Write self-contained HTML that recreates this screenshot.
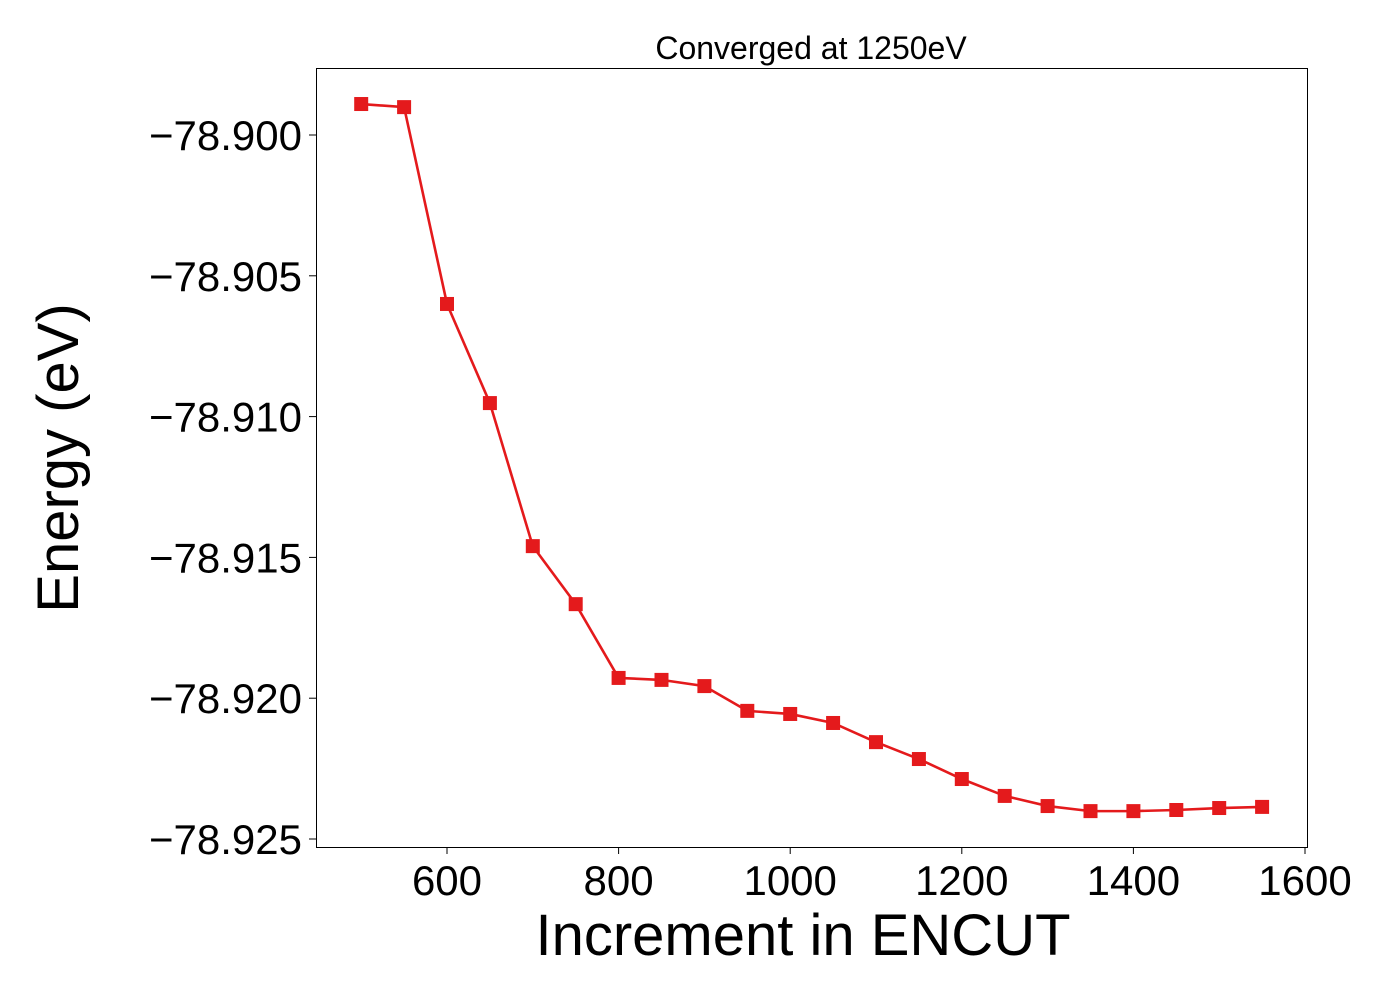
<!DOCTYPE html>
<html><head><meta charset="utf-8"><style>
body{margin:0;background:#fff;}
svg{display:block;font-family:"Liberation Sans","DejaVu Sans",sans-serif;}
</style></head><body>
<svg id="chart" width="1400" height="1000" viewBox="0 0 1400 1000" xmlns="http://www.w3.org/2000/svg">
<rect x="0" y="0" width="1400" height="1000" fill="#fff"/>
<text x="811" y="59" font-size="32" text-anchor="middle" fill="#000">Converged at 1250eV</text>
<g id="xticks"></g>
<g id="yticks"></g>
<g id="series"></g>
<rect x="316.5" y="68.5" width="991" height="779" fill="none" stroke="#000" stroke-width="1"/>
<text x="803" y="955" font-size="58" text-anchor="middle" fill="#000">Increment in ENCUT</text>
<text transform="translate(78,458) rotate(-90)" font-size="58" text-anchor="middle" fill="#000">Energy (eV)</text>
</svg>
<script>
const encut = [500,550,600,650,700,750,800,850,900,950,1000,1050,1100,1150,1200,1250,1300,1350,1400,1450,1500,1550];
const energy = [-78.89890,-78.89901,-78.90600,-78.90952,-78.91460,-78.91666,-78.91928,-78.91935,-78.91957,-78.92045,-78.92056,-78.92088,-78.92156,-78.92216,-78.92287,-78.92347,-78.92383,-78.92401,-78.92401,-78.92397,-78.92390,-78.92386];
const xTickValues = [600,800,1000,1200,1400,1600];
const yTickValues = [-78.900,-78.905,-78.910,-78.915,-78.920,-78.925];
const yTickLabels = ["\u221278.900","\u221278.905","\u221278.910","\u221278.915","\u221278.920","\u221278.925"];

const NS = "http://www.w3.org/2000/svg";
function xs(v){ return 447 + (v-600)*(171.6/200); }
function ys(v){ return 135 + (-78.900 - v)*(140.8/0.005); }
function mk(tag, attrs, parent){ const e=document.createElementNS(NS,tag); for(const k in attrs) e.setAttribute(k,attrs[k]); parent.appendChild(e); return e; }

const gx=document.getElementById('xticks');
xTickValues.forEach(v=>{
  const x=xs(v);
  const t=mk('line',{x1:x,x2:x,y1:847,y2:854,stroke:'#000','stroke-width':1},gx);
  
  
  const l=mk('text',{x:x,y:895,'font-size':42,'text-anchor':'middle',fill:'#000'},gx);
  l.textContent=String(v);
  
  
});
const gy=document.getElementById('yticks');
yTickValues.forEach((v,i)=>{
  const y=ys(v);
  const t=mk('line',{x1:309,x2:316,y1:y,y2:y,stroke:'#000','stroke-width':1},gy);
  
  
  const l=mk('text',{x:302,y:y+15,'font-size':42,'text-anchor':'end',fill:'#000'},gy);
  l.textContent=yTickLabels[i];
  
  
});
const gs=document.getElementById('series');
const pts=encut.map((v,i)=>xs(v)+','+ys(energy[i])).join(' ');
const line=mk('polyline',{points:pts,fill:'none',stroke:'#e41a1c','stroke-width':2.6},gs);


encut.forEach((v,i)=>{
  const m=mk('rect',{x:xs(v)-7,y:ys(energy[i])-7,width:14,height:14,fill:'#e41a1c'},gs);
  
  
});
</script>
</body></html>
